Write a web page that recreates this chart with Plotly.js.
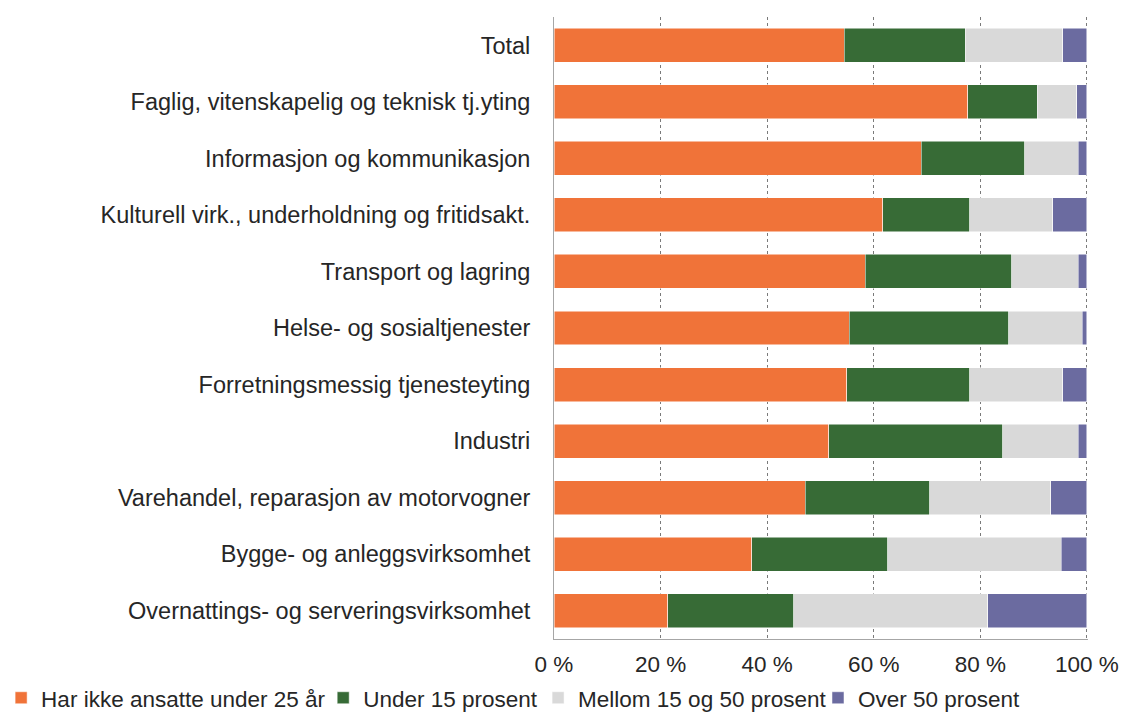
<!DOCTYPE html>
<html>
<head>
<meta charset="utf-8">
<script src="https://cdn.plot.ly/plotly-3.0.1.min.js"></script>
<style>html,body{margin:0;padding:0;background:#fff;}#chart{width:1121px;height:713px;}</style>
</head>
<body>
<div id="chart"></div>
<script>
const categories = [
  "Total",
  "Faglig, vitenskapelig og teknisk tj.yting",
  "Informasjon og kommunikasjon",
  "Kulturell virk., underholdning og fritidsakt.",
  "Transport og lagring",
  "Helse- og sosialtjenester",
  "Forretningsmessig tjenesteyting",
  "Industri",
  "Varehandel, reparasjon av motorvogner",
  "Bygge- og anleggsvirksomhet",
  "Overnattings- og serveringsvirksomhet"
];
const seriesNames = ["Har ikke ansatte under 25 år", "Under 15 prosent", "Mellom 15 og 50 prosent", "Over 50 prosent"];
const harIkke   = [54.5, 77.6, 68.9, 61.7, 58.4, 55.4, 54.9, 51.6, 47.1, 37.1, 21.3];
const under15   = [22.7, 13.1, 19.4, 16.3, 27.5, 29.9, 23.1, 32.6, 23.4, 25.5, 23.7];
const mellom    = [18.3,  7.4, 10.1, 15.6, 12.5, 13.8, 17.5, 14.2, 22.7, 32.6, 36.4];
const over50    = [ 4.5,  1.9,  1.6,  6.4,  1.6,  0.9,  4.5,  1.6,  6.8,  4.8, 18.6];
const tickVals = [0, 20, 40, 60, 80, 100];
const tickText = ["0 %", "20 %", "40 %", "60 %", "80 %", "100 %"];

const colors = ["#F07339", "#376B36", "#D9D9D9", "#6B6BA0"];
const vals = [harIkke, under15, mellom, over50];
const legendIds = ["legend", "legend2", "legend3", "legend4"];
const legendX = [0.001, 0.2883, 0.4800, 0.7297];
const font = "Liberation Sans, Arial, sans-serif";

const traces = vals.map((v, i) => ({
  type: "bar",
  orientation: "h",
  name: seriesNames[i],
  x: v,
  y: categories,
  legend: legendIds[i],
  marker: {color: colors[i], line: {color: "#ffffff", width: 0.5}},
  hoverinfo: "x+y"
}));

const layout = {
  width: 1121, height: 713,
  barmode: "stack",
  bargap: 0.4,
  margin: {l: 554, r: 33, t: 17, b: 74, autoexpand: false},
  paper_bgcolor: "#fff", plot_bgcolor: "#fff",
  font: {family: font, size: 23, color: "#262626"},
  xaxis: {
    range: [0, 100.2],
    tickvals: tickVals,
    ticktext: tickText,
    showgrid: true, gridcolor: "#7a7a7a", griddash: "dot", gridwidth: 1,
    zeroline: false, showline: true, linecolor: "#a6a6a6", linewidth: 1,
    ticks: "", ticklabelstandoff: 5, automargin: false,
    tickfont: {size: 22.5, color: "#262626"},
    fixedrange: true
  },
  yaxis: {
    categoryorder: "array", categoryarray: categories.slice().reverse(),
    showline: true, linecolor: "#a6a6a6", linewidth: 1,
    showgrid: false, zeroline: false,
    ticks: "", ticklabelstandoff: 18, automargin: false,
    tickfont: {size: 23.5, color: "#262626"},
    fixedrange: true
  },
  showlegend: true
};
legendIds.forEach((id, i) => {
  layout[id] = {
    orientation: "h",
    xref: "container", yref: "container",
    x: legendX[i], xanchor: "left",
    y: 0.051, yanchor: "top",
    font: {size: 22.5, color: "#262626"},
    bgcolor: "rgba(0,0,0,0)"
  };
});

Plotly.newPlot("chart", traces, layout, {displayModeBar: false, staticPlot: true});
</script>
</body>
</html>
